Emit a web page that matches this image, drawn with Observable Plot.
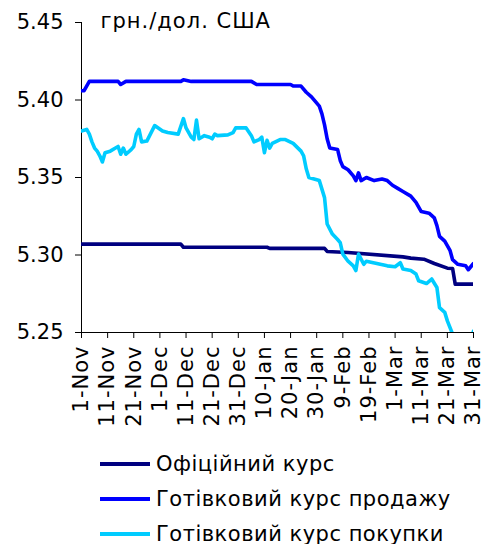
<!DOCTYPE html>
<html>
<head>
<meta charset="utf-8">
<script src="https://cdn.jsdelivr.net/npm/d3@7"></script>
<script src="https://cdn.jsdelivr.net/npm/@observablehq/plot@0.6"></script>
<style>
  html, body { margin: 0; padding: 0; background: #fff; }
  #chart svg text { letter-spacing: 1px; }
  #chart svg g.ylab text { letter-spacing: 0px; }
  .legend { font-family: "DejaVu Sans", sans-serif; font-size: 21px; letter-spacing: 0.5px; color: #000; }
  .legend .row { height: 35px; display: flex; align-items: center; }
  .legend .sw { display: inline-block; width: 50px; height: 4px; margin-left: 100px; margin-right: 6px; }
</style>
</head>
<body>
<div id="chart"></div>
<script>
// ---- data ----
const unitLabel = "грн./дол. США";
const seriesNames = ["Офіційний курс", "Готівковий курс продажу", "Готівковий курс покупки"];
const seriesColors = ["#000080", "#0000FF", "#00CCFF"];

const officialDates = ["2004-11-01","2004-12-09","2004-12-10","2005-01-11","2005-01-12","2005-02-02","2005-02-03","2005-02-11","2005-03-04","2005-03-07","2005-03-12","2005-03-16","2005-03-21","2005-03-23","2005-03-24","2005-03-31"];
const officialValues = [5.307,5.307,5.305,5.305,5.3043,5.3043,5.3023,5.3016,5.2988,5.298,5.2973,5.2945,5.2915,5.2913,5.2812,5.2812];

const saleDates = ["2004-11-01","2004-11-02","2004-11-04","2004-11-15","2004-11-16","2004-11-18","2004-12-09","2004-12-10","2004-12-13","2005-01-05","2005-01-07","2005-01-20","2005-01-21","2005-01-24","2005-01-26","2005-01-28","2005-01-31","2005-02-01","2005-02-02","2005-02-03","2005-02-04","2005-02-07","2005-02-08","2005-02-09","2005-02-11","2005-02-13","2005-02-14","2005-02-15","2005-02-16","2005-02-18","2005-02-21","2005-02-24","2005-02-26","2005-02-28","2005-03-02","2005-03-04","2005-03-07","2005-03-09","2005-03-11","2005-03-14","2005-03-16","2005-03-17","2005-03-18","2005-03-20","2005-03-22","2005-03-23","2005-03-25","2005-03-28","2005-03-29","2005-03-31"];
const saleValues = [5.406,5.406,5.412,5.412,5.410,5.412,5.412,5.413,5.412,5.412,5.410,5.410,5.409,5.409,5.405,5.402,5.396,5.391,5.384,5.375,5.369,5.368,5.361,5.357,5.355,5.351,5.348,5.353,5.348,5.350,5.348,5.349,5.348,5.345,5.343,5.341,5.338,5.334,5.328,5.327,5.324,5.319,5.312,5.309,5.303,5.297,5.294,5.293,5.2905,5.2945];

const buyDates = ["2004-11-01","2004-11-03","2004-11-04","2004-11-05","2004-11-06","2004-11-07","2004-11-08","2004-11-09","2004-11-10","2004-11-12","2004-11-14","2004-11-15","2004-11-16","2004-11-17","2004-11-18","2004-11-20","2004-11-21","2004-11-22","2004-11-23","2004-11-24","2004-11-26","2004-11-29","2004-12-02","2004-12-04","2004-12-08","2004-12-10","2004-12-11","2004-12-13","2004-12-14","2004-12-15","2004-12-16","2004-12-17","2004-12-18","2004-12-20","2004-12-21","2004-12-22","2004-12-23","2004-12-27","2004-12-29","2004-12-30","2005-01-03","2005-01-05","2005-01-06","2005-01-08","2005-01-09","2005-01-10","2005-01-11","2005-01-12","2005-01-13","2005-01-16","2005-01-18","2005-01-21","2005-01-24","2005-01-25","2005-01-26","2005-01-27","2005-01-29","2005-01-31","2005-02-02","2005-02-03","2005-02-05","2005-02-07","2005-02-08","2005-02-09","2005-02-11","2005-02-13","2005-02-14","2005-02-15","2005-02-17","2005-02-18","2005-02-22","2005-02-26","2005-03-01","2005-03-03","2005-03-04","2005-03-07","2005-03-09","2005-03-10","2005-03-13","2005-03-15","2005-03-17","2005-03-18","2005-03-20","2005-03-21","2005-03-23","2005-03-26","2005-03-30","2005-03-31"];
const buyValues = [5.380,5.381,5.378,5.373,5.369,5.367,5.364,5.360,5.366,5.367,5.369,5.370,5.365,5.369,5.365,5.368,5.370,5.378,5.381,5.373,5.3735,5.3835,5.380,5.379,5.378,5.388,5.382,5.376,5.3745,5.387,5.375,5.376,5.377,5.376,5.375,5.378,5.377,5.3775,5.379,5.382,5.382,5.377,5.373,5.3745,5.376,5.366,5.374,5.369,5.372,5.3745,5.3745,5.372,5.367,5.364,5.3556,5.350,5.349,5.348,5.337,5.320,5.3135,5.310,5.308,5.3006,5.296,5.293,5.290,5.3006,5.294,5.296,5.2945,5.293,5.2924,5.295,5.291,5.290,5.2877,5.2834,5.2816,5.2845,5.279,5.266,5.263,5.2575,5.249,5.245,5.245,5.251];

const xTickLabels = ["2004-11-01","2004-11-11","2004-11-21","2004-12-01","2004-12-11","2004-12-21","2004-12-31","2005-01-10","2005-01-20","2005-01-30","2005-02-09","2005-02-19","2005-03-01","2005-03-11","2005-03-21","2005-03-31"];
const yTicks = [5.25, 5.30, 5.35, 5.40, 5.45];

// ---- build tables ----
const parse = d3.utcParse("%Y-%m-%d");
function table(dates, values) { return dates.map((d, i) => ({date: parse(d), value: values[i]})); }
const series = [table(officialDates, officialValues), table(saleDates, saleValues), table(buyDates, buyValues)];
const fmtY = d3.format(".2f");

const chart = Plot.plot({
  width: 484,
  height: 446,
  marginLeft: 81,
  marginRight: 11,
  marginTop: 22,
  marginBottom: 114,
  style: {fontFamily: "DejaVu Sans, sans-serif", fontSize: "21px", color: "#000", background: "#fff"},
  x: {type: "utc", domain: [parse("2004-11-01"), parse("2005-03-31")]},
  y: {domain: [5.25, 5.45]},
  marks: [
    Plot.axisY({ticks: yTicks, tickFormat: () => "", tickSize: 6, label: null, stroke: "#000"}),
    Plot.text(yTicks, {y: d => d, frameAnchor: "left", dx: -18, textAnchor: "end", lineAnchor: "middle", text: d => fmtY(d), fontSize: 21, fill: "#000", className: "ylab"}),
    Plot.axisX({ticks: xTickLabels.map(parse), tickFormat: d3.utcFormat("%-d-%b"), tickRotate: -90, tickSize: 6, tickPadding: 7, label: null, fontSize: 21, stroke: "#000"}),
    Plot.ruleY([5.25], {stroke: "#000", strokeWidth: 1}),
    Plot.ruleX([parse("2004-11-01")], {stroke: "#000", strokeWidth: 1}),
    ...series.map((data, i) => Plot.line(data, {x: "date", y: "value", stroke: seriesColors[i], strokeWidth: 3.6, clip: true, curve: "linear"})),
    Plot.text([unitLabel], {frameAnchor: "top-left", dx: 19, dy: -1, textAnchor: "start", lineAnchor: "middle", fontSize: 21, fill: "#000"})
  ]
});
document.getElementById("chart").appendChild(chart);

// ---- legend below ----
const legend = document.createElement("div");
legend.className = "legend";
seriesNames.forEach((name, i) => {
  const row = document.createElement("div");
  row.className = "row";
  const sw = document.createElement("span");
  sw.className = "sw";
  sw.style.background = seriesColors[i];
  row.appendChild(sw);
  row.appendChild(document.createTextNode(name));
  legend.appendChild(row);
});
document.body.appendChild(legend);
</script>
</body>
</html>
